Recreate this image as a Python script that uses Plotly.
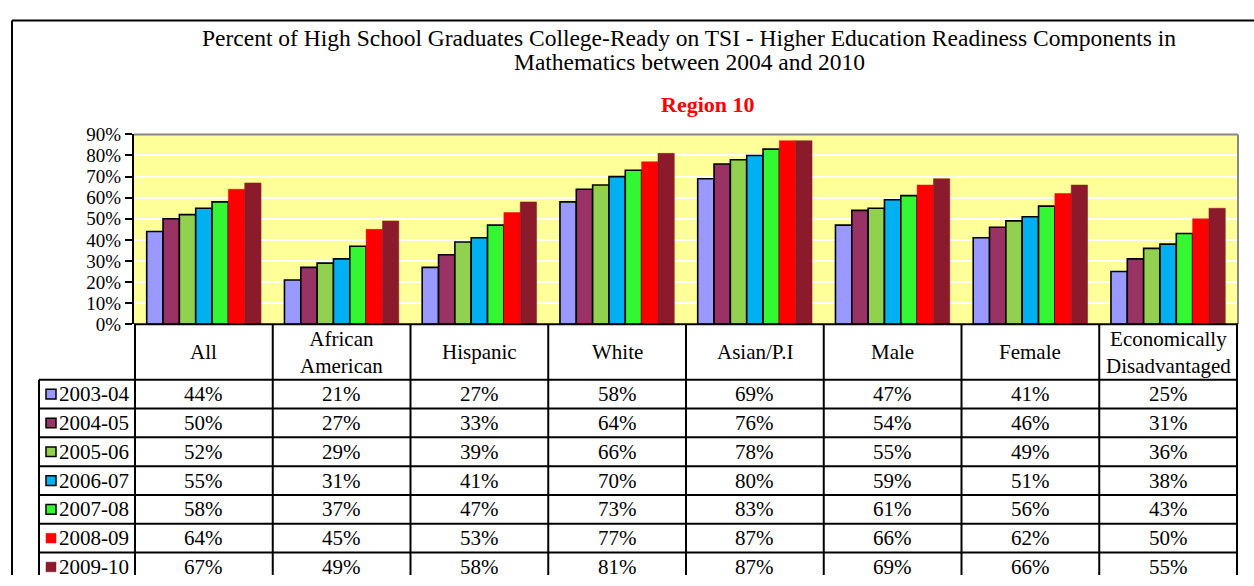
import plotly.graph_objects as go

# Categories (table header labels) and yearly series values (%)
categories = ["All", "African<br>American", "Hispanic", "White", "Asian/P.I",
              "Male", "Female", "Economically<br>Disadvantaged"]
years = ["2003-04", "2004-05", "2005-06", "2006-07", "2007-08", "2008-09", "2009-10"]

v_2003_04 = [44, 21, 27, 58, 69, 47, 41, 25]
v_2004_05 = [50, 27, 33, 64, 76, 54, 46, 31]
v_2005_06 = [52, 29, 39, 66, 78, 55, 49, 36]
v_2006_07 = [55, 31, 41, 70, 80, 59, 51, 38]
v_2007_08 = [58, 37, 47, 73, 83, 61, 56, 43]
v_2008_09 = [64, 45, 53, 77, 87, 66, 62, 50]
v_2009_10 = [67, 49, 58, 81, 87, 69, 66, 55]
series = [v_2003_04, v_2004_05, v_2005_06, v_2006_07, v_2007_08, v_2008_09, v_2009_10]

y_ticks = [0, 10, 20, 30, 40, 50, 60, 70, 80, 90]

title_lines = ["Percent of High School Graduates College-Ready on TSI - Higher Education Readiness Components in",
               "Mathematics between 2004 and 2010"]
subtitle = "Region 10"

colors = ["#9999FF", "#993366", "#92D050", "#00B0F0", "#33F733", "#FF0000", "#8B1A2B"]
outlined = [True, True, True, True, True, False, False]

W, H = 1254, 586
FONT = "Liberation Serif, Times New Roman, serif"
TXT = 21


def px(x):
    return x / W


def py(y):
    return 1 - y / H


PLOT_L, PLOT_R, PLOT_T, PLOT_B = 134, 1238, 129, 326
HEAD_B = 383.5
ROW_H = 29.87
LEG_L = 39

fig = go.Figure()
for name, vals, col, outl in zip(years, series, colors, outlined):
    fig.add_trace(go.Bar(
        x=categories, y=[v / 100 for v in vals], name=name,
        marker=dict(color=col,
                    line=dict(color="black" if outl else col, width=1.6 if outl else 0.5)),
        showlegend=False,
    ))

shapes = []
annotations = []

frame = dict(color="black", width=2)
# outer chart frame (top and left edges; the rest runs off the page)
shapes.append(dict(type="line", xref="paper", yref="paper",
                   x0=px(12), x1=1, y0=py(11), y1=py(11), line=frame))
shapes.append(dict(type="line", xref="paper", yref="paper",
                   x0=px(12), x1=px(12), y0=py(11), y1=0, line=frame))
# gray plot border (top/right)
shapes.append(dict(type="line", xref="paper", yref="paper",
                   x0=px(PLOT_L), x1=px(PLOT_R), y0=py(PLOT_T), y1=py(PLOT_T),
                   line=dict(color="#888888", width=2)))
shapes.append(dict(type="line", xref="paper", yref="paper",
                   x0=px(PLOT_R), x1=px(PLOT_R), y0=py(PLOT_T), y1=py(PLOT_B),
                   line=dict(color="#888888", width=2)))

line_style = dict(color="black", width=2)
# header top line (0% baseline) and row lines
shapes.append(dict(type="line", xref="paper", yref="paper",
                   x0=px(PLOT_L), x1=px(PLOT_R), y0=py(PLOT_B), y1=py(PLOT_B), line=line_style))
n_rows = len(years)
for i in range(n_rows + 1):
    yy = HEAD_B + i * ROW_H
    if yy > H:
        continue
    shapes.append(dict(type="line", xref="paper", yref="paper",
                       x0=px(LEG_L), x1=px(PLOT_R), y0=py(yy), y1=py(yy), line=line_style))
# column separators at category boundaries
for k in range(len(categories) + 1):
    shapes.append(dict(type="line", xref="x", yref="paper",
                       x0=k - 0.5, x1=k - 0.5, y0=py(PLOT_B), y1=0, line=line_style))
# legend column left edge
shapes.append(dict(type="line", xref="paper", yref="paper",
                   x0=px(LEG_L), x1=px(LEG_L), y0=py(HEAD_B), y1=0, line=line_style))

# header labels
for c in categories:
    annotations.append(dict(x=c, xref="x", y=py(355), yref="paper", text=c,
                            showarrow=False, xanchor="center", yanchor="middle",
                            font=dict(family=FONT, size=TXT, color="black")))

# table rows: legend key + year label + values
for i, (name, vals, col, outl) in enumerate(zip(years, series, colors, outlined)):
    yc = HEAD_B + i * ROW_H + ROW_H / 2
    shapes.append(dict(type="rect", xref="paper", yref="paper",
                       x0=px(46), x1=px(56), y0=py(yc - 5), y1=py(yc + 5),
                       fillcolor=col,
                       line=dict(color="black" if outl else col, width=1.5 if outl else 0.5)))
    annotations.append(dict(x=px(57), xref="paper", y=py(yc), yref="paper", text=name,
                            showarrow=False, xanchor="left", yanchor="middle",
                            font=dict(family=FONT, size=TXT, color="black")))
    for c, v in zip(categories, vals):
        annotations.append(dict(x=c, xref="x", y=py(yc), yref="paper", text=f"{v}%",
                                showarrow=False, xanchor="center", yanchor="middle",
                                font=dict(family=FONT, size=TXT, color="black")))

# titles
for line_text, yline in zip(title_lines, [29, 54]):
    annotations.append(dict(x=px(689), y=py(yline), xref="paper", yref="paper",
                            text=line_text, showarrow=False,
                            xanchor="center", yanchor="middle",
                            font=dict(family=FONT, size=23.5, color="black")))
annotations.append(dict(x=px(708), y=py(98), xref="paper", yref="paper",
                        text=f"<b>{subtitle}</b>", showarrow=False,
                        xanchor="center", yanchor="middle",
                        font=dict(family=FONT, size=22, color="#FF0000")))

fig.update_layout(
    width=W, height=H, autosize=False,
    margin=dict(l=0, r=0, t=0, b=0),
    paper_bgcolor="white",
    plot_bgcolor="#FFFF99",
    barmode="group", bargap=0.17, bargroupgap=0,
    shapes=shapes, annotations=annotations,
    xaxis=dict(domain=[px(PLOT_L), px(PLOT_R)], showticklabels=False, showgrid=False,
               zeroline=False, showline=False, ticks=""),
    yaxis=dict(domain=[py(PLOT_B), py(PLOT_T)], range=[0, 0.9],
               tickvals=[t / 100 for t in y_ticks],
               ticktext=[f"{t}%" for t in y_ticks],
               showgrid=True, gridcolor="white", gridwidth=2,
               zeroline=False, showline=True, linecolor="black", linewidth=2,
               ticks="outside", ticklen=7, tickwidth=2, tickcolor="black",
               tickfont=dict(family=FONT, size=19, color="black")),
    font=dict(family=FONT),
)

fig.write_html("out.html")
